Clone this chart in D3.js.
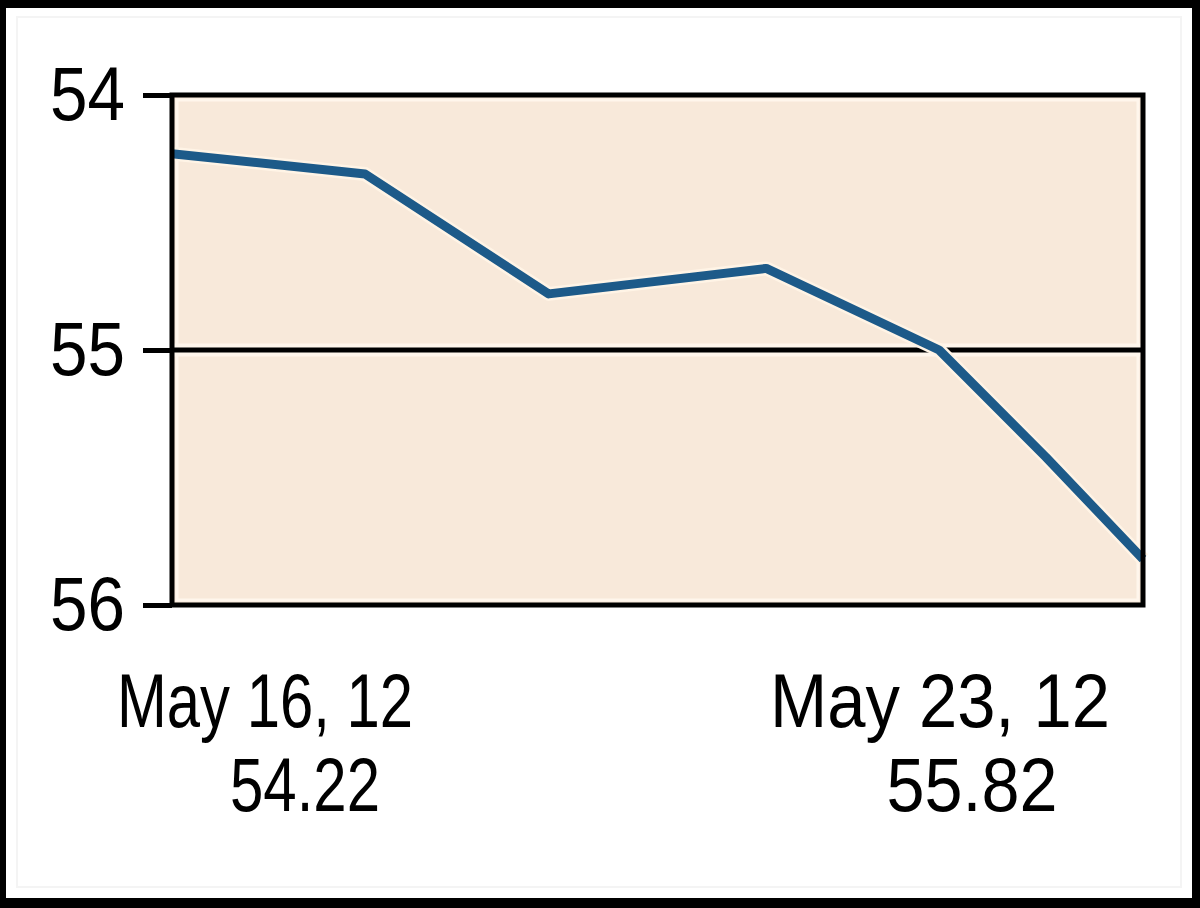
<!DOCTYPE html>
<html><head><meta charset="utf-8">
<script src="https://cdn.jsdelivr.net/npm/d3@7"></script>
<style>html,body{margin:0;padding:0;background:#fff;} svg{display:block}</style>
</head><body><svg id="c" width="1200" height="908"></svg>
<script>
// ---- data ----
const dayPositions = [0, 0.994, 1.94, 3.06, 3.95, 4.5, 5];
const prices = [54.23, 54.31, 54.78, 54.68, 55.0, 55.42, 55.82];
const yTicks = [54, 55, 56];
const endDates = ["May 16, 12", "May 23, 12"];
const endValues = ["54.22", "55.82"];

// ---- layout ----
const W = 1200, H = 908;
const plot = {left: 172, right: 1143, top: 95, bottom: 605};
const FONT = "'Liberation Sans', Arial, sans-serif";
const lineColor = "#1d5a89";
const plotFill = "#f8e9da";

const svg = d3.select("#c");
svg.append("rect").attr("width", W).attr("height", H).attr("fill", "#000");
svg.append("rect").attr("x", 6).attr("y", 8).attr("width", 1186).attr("height", 890).attr("fill", "#fff");
svg.append("rect").attr("x", 17).attr("y", 17).attr("width", 1164).attr("height", 870)
  .attr("fill", "none").attr("stroke", "#f4f4f4").attr("stroke-width", 2);

const x = d3.scaleLinear().domain([0, 5]).range([plot.left, plot.right]);
const y = d3.scaleLinear().domain([54, 56]).range([plot.top, plot.bottom]);

// plot background
svg.append("rect").attr("x", plot.left).attr("y", plot.top)
  .attr("width", plot.right - plot.left).attr("height", plot.bottom - plot.top)
  .attr("fill", plotFill);
svg.append("rect").attr("x", plot.left + 5).attr("y", plot.top + 5)
  .attr("width", plot.right - plot.left - 10).attr("height", plot.bottom - plot.top - 10)
  .attr("fill", "none").attr("stroke", "#fff6ec").attr("stroke-width", 3);

// gridline(s) inside plot
const inner = yTicks.filter(d => d > 54 && d < 56);
svg.selectAll("line.gh").data(inner).join("line").attr("class", "gh")
  .attr("x1", plot.left).attr("x2", plot.right)
  .attr("y1", d => y(d)).attr("y2", d => y(d))
  .attr("stroke", "#fff6ec").attr("stroke-width", 13);
svg.selectAll("line.g").data(inner).join("line").attr("class", "g")
  .attr("x1", plot.left).attr("x2", plot.right)
  .attr("y1", d => y(d)).attr("y2", d => y(d))
  .attr("stroke", "#000").attr("stroke-width", 5);

// data line
const pts = dayPositions.map((d, i) => [d, prices[i]]);
const line = d3.line().x(d => x(d[0])).y(d => y(d[1]));
svg.append("path").attr("d", line(pts)).attr("fill", "none")
  .attr("stroke", "#fff4e6").attr("stroke-width", 14).attr("stroke-linejoin", "round");
svg.append("path").attr("d", line(pts)).attr("fill", "none")
  .attr("stroke", lineColor).attr("stroke-width", 9).attr("stroke-linejoin", "round");

// frame
svg.append("rect").attr("x", plot.left).attr("y", plot.top)
  .attr("width", plot.right - plot.left).attr("height", plot.bottom - plot.top)
  .attr("fill", "none").attr("stroke", "#000").attr("stroke-width", 5);

// y axis
const ax = svg.append("g").attr("transform", `translate(${plot.left},0)`)
  .call(d3.axisLeft(y).tickValues(yTicks).tickSize(29).tickPadding(18).tickFormat(d3.format("d")));
ax.attr("font-family", FONT).attr("font-size", 76);
ax.select(".domain").remove();
ax.selectAll(".tick line").attr("stroke", "#000").attr("stroke-width", 5);
ax.selectAll(".tick text").attr("fill", "#000")
  .attr("textLength", 75).attr("lengthAdjust", "spacingAndGlyphs");

// bottom labels
const dateLayout = [{cx: 265, w: 296}, {cx: 940, w: 340}];
const valueLayout = [{cx: 305, w: 150}, {cx: 972, w: 171}];
svg.selectAll("text.date").data(endDates).join("text").attr("class", "date")
  .attr("x", (d, i) => dateLayout[i].cx).attr("y", 727)
  .attr("text-anchor", "middle").attr("font-family", FONT).attr("font-size", 76)
  .attr("textLength", (d, i) => dateLayout[i].w).attr("lengthAdjust", "spacingAndGlyphs")
  .text(d => d);
svg.selectAll("text.val").data(endValues).join("text").attr("class", "val")
  .attr("x", (d, i) => valueLayout[i].cx).attr("y", 811)
  .attr("text-anchor", "middle").attr("font-family", FONT).attr("font-size", 76)
  .attr("textLength", (d, i) => valueLayout[i].w).attr("lengthAdjust", "spacingAndGlyphs")
  .text(d => d);
</script>
</body></html>
